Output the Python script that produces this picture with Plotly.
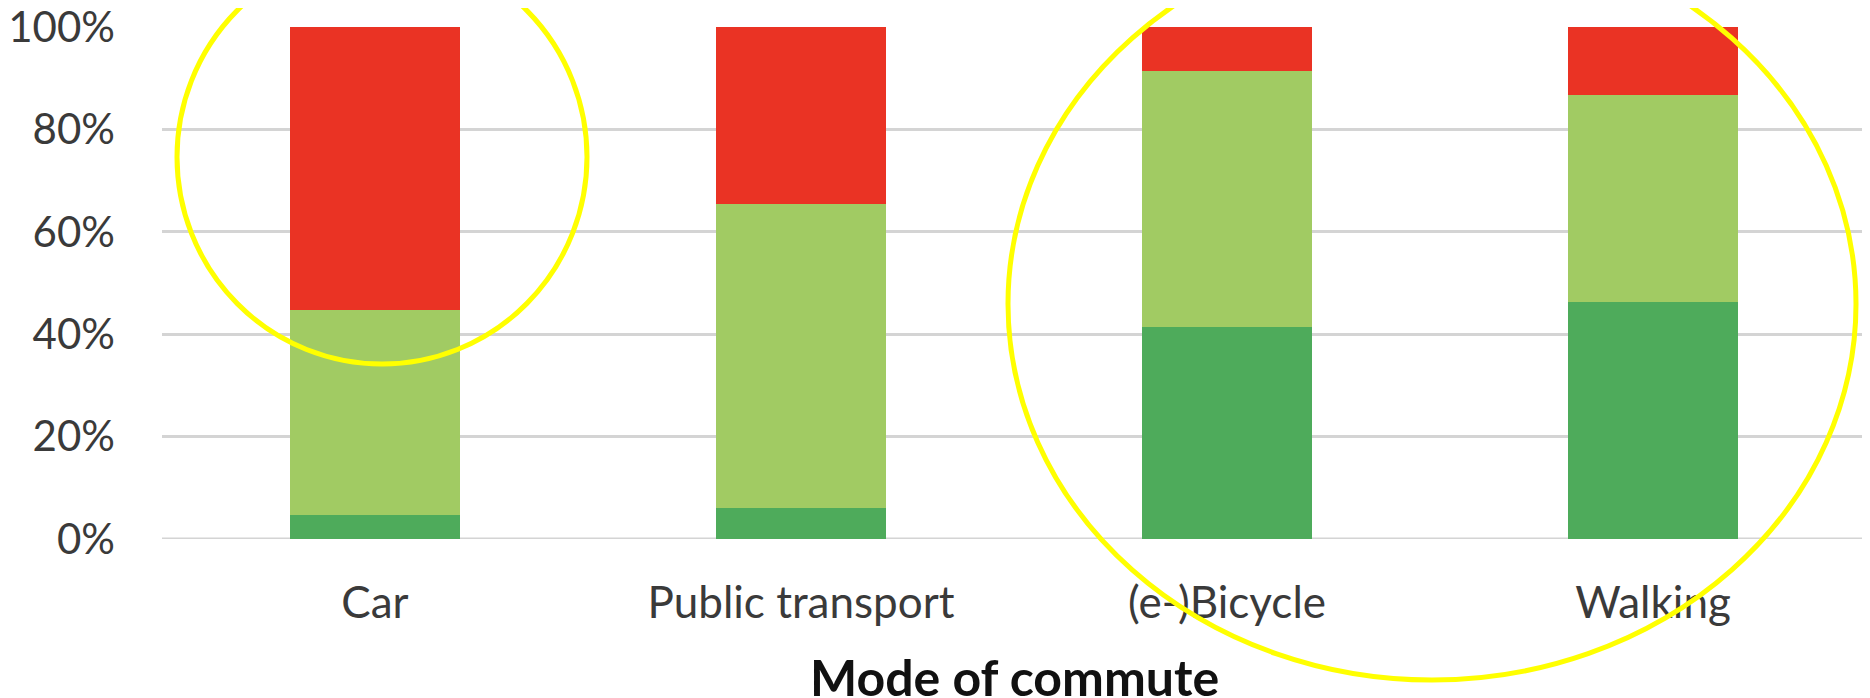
import plotly.graph_objects as go

categories = ["Car", "Public transport", "(e-)Bicycle", "Walking"]
dark_green = [4.7, 6.1, 41.5, 46.2]
light_green = [40.1, 59.4, 49.9, 40.5]
red = [55.2, 34.5, 8.6, 13.3]
y_ticks = [0, 20, 40, 60, 80, 100]
y_tick_labels = ["0%", "20%", "40%", "60%", "80%", "100%"]
x_title = "Mode of commute"

# page body has an 8px margin, so the figure is offset by 8px in the window
OFF = 8
W, H = 1870 - OFF, 698 - OFF
# plot area in window pixels: x 162..1866, y 27..539
ml = 162 - OFF
mr = W - (1866 - OFF)
mt = 27 - OFF
mb = H - (539 - OFF)
pw, ph = W - ml - mr, H - mt - mb

def px(x):
    # x given in window pixels
    return (x - OFF - ml) / pw

def py(y):
    # y given in window pixels
    return (H - mb - (y - OFF)) / ph

fig = go.Figure()
for vals, col in [(dark_green, "#4EAB5B"), (light_green, "#A1CB63"), (red, "#EA3324")]:
    fig.add_trace(go.Bar(x=categories, y=vals, marker=dict(color=col, line=dict(width=0)),
                         showlegend=False, hoverinfo="skip"))

font_family = "Lato, 'Open Sans', sans-serif"
fig.update_layout(
    barmode="stack",
    bargap=0.6,
    width=W, height=H,
    margin=dict(l=ml, r=mr, t=mt, b=mb, pad=0),
    paper_bgcolor="white", plot_bgcolor="white",
    font=dict(family=font_family, color="#404040"),
    xaxis=dict(
        automargin=False,
        showgrid=False, showline=False, zeroline=False,
        tickfont=dict(size=44, color="#3A3A3A"), ticks="", ticklabelstandoff=34,
    ),
    yaxis=dict(
        automargin=False,
        range=[0, 100], tickvals=y_ticks, ticktext=y_tick_labels,
        showgrid=True, gridcolor="#D4D4D4", gridwidth=3,
        zeroline=False, showline=False, ticklabeloverflow="allow",
        tickfont=dict(size=42, color="#3A3A3A"), ticks="", ticklabelstandoff=46,
    ),
)
# axis title placed explicitly
fig.add_annotation(text="<b>" + x_title + "</b>", xref="paper", yref="paper",
                   x=0.5, y=py(677), xanchor="center", yanchor="middle",
                   showarrow=False, font=dict(size=50, color="#111111", family=font_family))

fig.add_shape(type="line", xref="paper", yref="y", x0=0, x1=1, y0=0, y1=0,
              line=dict(color="#D4D4D4", width=3), layer="below")

# yellow highlight ellipses (window-pixel extents)
fig.add_shape(type="circle", xref="paper", yref="paper",
              x0=px(177), x1=px(587), y0=py(364), y1=py(-50),
              line=dict(color="#FFFF00", width=5))
fig.add_shape(type="circle", xref="paper", yref="paper",
              x0=px(1008), x1=px(1856), y0=py(680), y1=py(-72),
              line=dict(color="#FFFF00", width=5))

fig.write_html("out.html")
